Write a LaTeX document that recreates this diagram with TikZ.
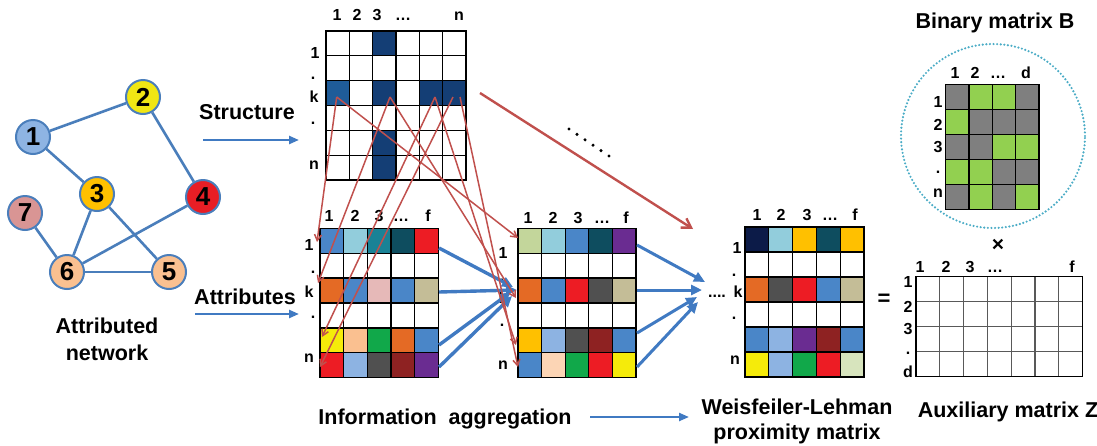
\documentclass[tikz,border=0pt]{standalone}
\usepackage{fontspec}
\setmainfont{Liberation Sans}
\usetikzlibrary{arrows.meta}

% palette
\definecolor{edgeblue}{RGB}{74,126,187}
\definecolor{flowblue}{RGB}{64,122,194}
\definecolor{redline}{RGB}{192,80,77}
\definecolor{ringblue}{RGB}{75,172,198}
\definecolor{nodeA}{RGB}{142,180,227}
\definecolor{nodeB}{RGB}{240,230,20}
\definecolor{nodeC}{RGB}{255,192,0}
\definecolor{nodeD}{RGB}{232,30,37}
\definecolor{nodeE}{RGB}{250,192,144}
\definecolor{nodeG}{RGB}{217,149,148}
\definecolor{sdark}{RGB}{20,62,117}
\definecolor{sdarkb}{RGB}{31,92,153}
\definecolor{mblue}{RGB}{74,134,200}
\definecolor{cyanl}{RGB}{146,205,220}
\definecolor{tealc}{RGB}{26,130,150}
\definecolor{dteal}{RGB}{14,77,95}
\definecolor{cred}{RGB}{237,28,36}
\definecolor{orng}{RGB}{228,106,37}
\definecolor{pinkc}{RGB}{230,185,184}
\definecolor{khaki}{RGB}{196,189,151}
\definecolor{yell}{RGB}{245,235,10}
\definecolor{peach}{RGB}{250,192,144}
\definecolor{cgreen}{RGB}{17,168,74}
\definecolor{lblue}{RGB}{141,179,226}
\definecolor{dgrey}{RGB}{80,80,80}
\definecolor{dred}{RGB}{142,34,34}
\definecolor{purp}{RGB}{106,44,145}
\definecolor{olive}{RGB}{195,214,155}
\definecolor{amber}{RGB}{255,192,0}
\definecolor{lpeach}{RGB}{252,213,181}
\definecolor{navy}{RGB}{12,27,72}
\definecolor{lgreen}{RGB}{215,228,189}
\definecolor{bgrey}{RGB}{127,127,127}
\definecolor{bgreen}{RGB}{146,208,80}

\begin{document}
\begin{tikzpicture}[x=1pt,y=-1pt,
  lbl/.style={font=\bfseries\fontsize{21.5}{24}\selectfont, inner sep=0pt, align=center},
  idx/.style={font=\bfseries\fontsize{16}{16}\selectfont, inner sep=0pt,
              text height=11.5pt, text depth=0pt},
  gnode/.style={circle, draw=edgeblue, line width=2pt, minimum size=34pt, inner sep=0pt,
                font=\bfseries\fontsize{26}{26}\selectfont},
  gedge/.style={draw=edgeblue, line width=2.6pt},
  flow/.style={draw=flowblue, line width=2.4pt, -{Triangle[length=10pt,width=8pt]}},
  agg/.style={draw=flowblue, line width=3.4pt, -{Triangle[length=11pt,width=10pt]}},
  pick/.style={draw=redline, line width=1.5pt, -{Straight Barb[length=6pt,width=7pt]}},
  cellbox/.style={draw=black, line width=1.3pt},
]
\useasboundingbox (0,0) rectangle (1097,445);

% ---------------- attributed network ----------------
\node[gnode, fill=nodeA] (n1) at (33,137) {1};
\node[gnode, fill=nodeB] (n2) at (143,97) {2};
\node[gnode, fill=nodeC] (n3) at (97,194) {3};
\node[gnode, fill=nodeD] (n4) at (203,197) {4};
\node[gnode, fill=nodeE] (n5) at (169,272) {5};
\node[gnode, fill=nodeE] (n6) at (67,272) {6};
\node[gnode, fill=nodeG] (n7) at (25,213) {7};
\draw[gedge] (n1) -- (n2);
\draw[gedge] (n1) -- (n3);
\draw[gedge] (n2) -- (n4);
\draw[gedge] (n3) -- (n6);
\draw[gedge] (n3) -- (n5);
\draw[gedge] (n4) -- (n6);
\draw[gedge] (n6) -- (n5);
\draw[gedge] (n7) -- (n6);
\node[lbl] (netlbl) at (107,339) {Attributed\\[3pt]network};

% ---------------- structure / attributes inputs ----------------
\node[lbl] (struct) at (247,112) {Structure};
\node[lbl] (attrs) at (245,297) {Attributes};
\coordinate (sA) at (203,140); \coordinate (sB) at (299,140);
\coordinate (aA) at (195,314); \coordinate (aB) at (299,314);
\draw[flow] (sA) -- (sB);
\draw[flow] (aA) -- (aB);

% ---------------- structure matrix ----------------
\foreach \r in {0,...,5}
  \foreach \c in {0,...,5}
    \path[cellbox, fill=white] (326+\c*23.33, 31+\r*24.83) rectangle ++(23.33,24.83);
\foreach \r/\c/\f in {0/2/sdark, 2/0/sdarkb, 2/2/sdark, 2/4/sdark, 2/5/sdark, 4/2/sdark, 5/2/sdark}
  \path[cellbox, fill=\f] (326+\c*23.33, 31+\r*24.83) rectangle ++(23.33,24.83);
\foreach \t/\x in {1/337, 2/357, 3/377, \dots/403, n/459}
  \node[idx] at (\x,15) {\t};
\node[idx] at (315,53) {1};
\node[idx] at (313,74) {.};
\node[idx] at (314,97) {k};
\node[idx] at (313,119) {.};
\node[idx] at (314,164) {n};

% ---------------- attribute matrix ----------------
\foreach \row [count=\r from 0] in {
    {mblue,cyanl,tealc,dteal,cred},
    {white,white,white,white,white},
    {orng,mblue,pinkc,mblue,khaki},
    {white,white,white,white,white},
    {yell,peach,cgreen,orng,mblue},
    {cred,lblue,dgrey,dred,purp}}
  \foreach \f [count=\c from 0] in \row
    \path[cellbox, fill=\f] (320+\c*23.7, 228.3+\r*24.9) rectangle ++(23.7,24.9);
\foreach \t/\x in {1/329, 2/355, 3/379, \dots/401, f/428}
  \node[idx] at (\x,216) {\t};
\node[idx] at (309,245) {1};
\node[idx] at (313,268) {.};
\node[idx] at (309,292) {k};
\node[idx] at (313,313) {.};
\node[idx] at (309,357) {n};

% ---------------- aggregated matrix ----------------
\foreach \row [count=\r from 0] in {
    {olive,cyanl,mblue,dteal,purp},
    {white,white,white,white,white},
    {orng,mblue,cred,dgrey,khaki},
    {white,white,white,white,white},
    {amber,lblue,dgrey,dred,mblue},
    {mblue,lpeach,cgreen,cred,yell}}
  \foreach \f [count=\c from 0] in \row
    \path[cellbox, fill=\f] (518+\c*23.6, 228.3+\r*24.9) rectangle ++(23.6,24.9);
\foreach \t/\x in {1/528, 2/553, 3/578, \dots/602, f/626}
  \node[idx] at (\x,218) {\t};
\node[idx] at (503,253) {1};
\node[idx] at (502,276) {.};
\node[idx] at (503,298) {k};
\node[idx] at (502,321) {.};
\node[idx] at (503,364) {n};

% ---------------- Weisfeiler-Lehman matrix ----------------
\foreach \row [count=\r from 0] in {
    {navy,cyanl,amber,dteal,amber},
    {white,white,white,white,white},
    {orng,dgrey,cred,mblue,khaki},
    {white,white,white,white,white},
    {mblue,lblue,purp,dred,mblue},
    {yell,lblue,cgreen,cred,lgreen}}
  \foreach \f [count=\c from 0] in \row
    \path[cellbox, fill=\f] (745+\c*23.8, 227+\r*25) rectangle ++(23.8,25);
\foreach \t/\x in {1/757, 2/781, 3/807, \dots/830, f/855}
  \node[idx] at (\x,215) {\t};
\node[idx] at (737,248) {1};
\node[idx] at (734,271) {.};
\node[idx] at (738,292) {k};
\node[idx] at (734,314) {.};
\node[idx] at (735,359) {n};
\node[idx] (wldots) at (717,292) {....};

% ---------------- binary matrix B ----------------
\node[lbl] (blbl) at (995,23) {Binary matrix B};
\node[circle, draw=ringblue, line width=2.4pt, dash pattern=on 0pt off 3.6pt, line cap=round,
      minimum size=184pt, inner sep=0pt] (ring) at (993,136) {};
\foreach \row [count=\r from 0] in {
    {bgrey,bgreen,bgreen,bgrey},
    {bgreen,bgrey,bgrey,bgrey},
    {bgrey,bgrey,bgreen,bgreen},
    {bgreen,bgreen,bgrey,bgrey},
    {bgrey,bgreen,bgrey,bgreen}}
  \foreach \f [count=\c from 0] in \row
    \path[cellbox, fill=\f] (945.7+\c*23.33, 84.3+\r*25) rectangle ++(23.33,25);
\foreach \t/\x in {1/955, 2/975, \dots/998, d/1026}
  \node[idx] at (\x,73) {\t};
\foreach \t/\y in {1/102, 2/125, 3/147, ./168, n/192}
  \node[idx] at (938,\y) {\t};

% ---------------- auxiliary matrix Z ----------------
\node[font=\bfseries\fontsize{21}{21}\selectfont, inner sep=0pt] (times) at (998,245) {×};
\foreach \r in {0,...,3}
  \foreach \c in {0,...,6}
    \path[draw=black!65, line width=1.2pt] (916+\c*23.8, 276.7+\r*25) rectangle ++(23.8,25);
\draw[line width=1.3pt] (916,276.7) rectangle (1082.6,376.7);
\foreach \t/\x in {1/920, 2/946, 3/970, \dots/995, f/1072}
  \node[idx] at (\x,267) {\t};
\foreach \t/\y in {1/282, 2/307, 3/329, ./349, d/372}
  \node[idx] at (908,\y) {\t};
\node[font=\bfseries\fontsize{22}{22}\selectfont, inner sep=0pt] (eq) at (884,300) {=};
\node[lbl] (zlbl) at (1008,412) {Auxiliary matrix Z};

% ---------------- bottom captions ----------------
\node[lbl] (infolbl) at (445,419) {Information\ \ aggregation};
\node[lbl] (wllbl) at (797,421) {Weisfeiler-Lehman\\[1pt]proximity matrix};
\coordinate (bA) at (590,417); \coordinate (bB) at (689,417);
\draw[flow, line width=2.2pt] (bA) -- (bB);

% ---------------- aggregation arrows (blue) ----------------
\coordinate (r0) at (439,248);  \coordinate (r0e) at (513,287);
\coordinate (rk) at (439,292);  \coordinate (rke) at (517,290);
\coordinate (r4) at (439,345);  \coordinate (r4e) at (511,292);
\coordinate (rn) at (439,367);  \coordinate (rne) at (512,296);
\draw[agg] (r0) -- (r0e);
\draw[agg] (rk) -- (rke);
\draw[agg] (r4) -- (r4e);
\draw[agg] (rn) -- (rne);

\coordinate (q0) at (637,245);  \coordinate (q0e) at (705,282);
\coordinate (qk) at (637,290);  \coordinate (qke) at (702,290);
\coordinate (q4) at (637,333);  \coordinate (q4e) at (697,297);
\coordinate (qn) at (637,367);  \coordinate (qne) at (698,302);
\draw[agg, line width=3pt] (q0) -- (q0e);
\draw[agg, line width=3pt] (qk) -- (qke);
\draw[agg, line width=3pt] (q4) -- (q4e);
\draw[agg, line width=3pt] (qn) -- (qne);

% ---------------- neighbour selection arrows (red) ----------------
\coordinate (s1) at (336.7,97);
\coordinate (s3) at (390,97);
\coordinate (s5) at (435,97);
\coordinate (s6a) at (453,97);
\coordinate (s6b) at (460,97);
\coordinate (a0) at (317,242);
\coordinate (ak) at (318,283);
\coordinate (a4) at (322,337);
\coordinate (an) at (320,367);
\coordinate (m0) at (518,238);
\coordinate (mk) at (516,298);
\coordinate (m4) at (516,345);
\coordinate (mn) at (518,367);
\draw[pick] (s1) -- (a0);
\draw[pick] (s3) -- (ak);
\draw[pick] (s5) -- (a4);
\draw[pick] (s6a) -- (an);
\draw[pick] (s1) -- (m0);
\draw[pick] (s3) -- (mk);
\draw[pick] (s5) -- (m4);
\draw[pick] (s6b) -- (mn);

\coordinate (bigA) at (480,93);
\coordinate (bigB) at (693,229);
\draw[draw=redline, line width=2.4pt, -{Straight Barb[length=9pt,width=11pt]}] (bigA) -- (bigB);
\foreach \i in {0,...,5}
  \fill (569+\i*8, 129+\i*5.4) circle (1.7);

\end{tikzpicture}
\end{document}
